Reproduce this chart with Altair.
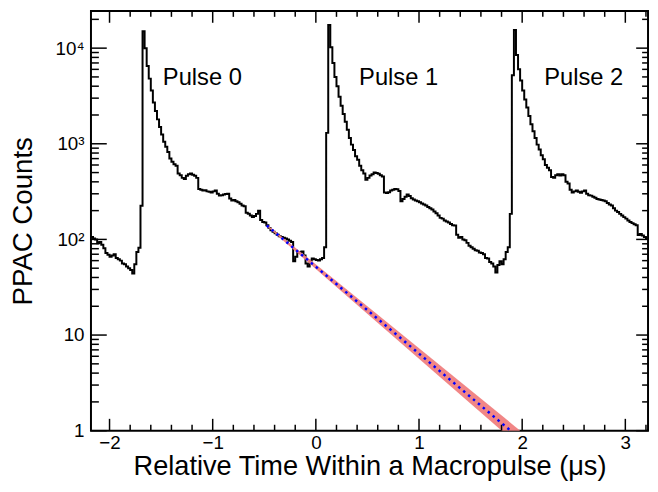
import altair as alt
import pandas as pd

# ---------------- data ----------------
bin_start = -2.18
bin_width = 0.02
counts = [
    # bins 0-24
    106, 102, 100, 91, 94, 88, 81, 72, 69, 66, 68, 70, 64, 62, 60, 56, 55, 52, 50, 48,
    44, 55, 74, 82, 225,
    # pulse 0: bins 25-50
    15000, 10000, 6500, 4800, 3600, 2700, 2200, 1800, 1500, 1250, 1050, 930, 820, 700, 650,
    610, 590, 490, 470, 440, 427, 462, 480, 490, 475, 462,
    # bins 51-83
    440, 337, 330, 324, 326, 318, 315, 310, 318, 324, 300, 287, 290, 295, 298, 300, 268,
    255, 258, 250, 245, 236, 226, 222, 190, 186, 178, 171, 176, 185, 200, 160, 152,
    # bins 84-115
    150, 141, 132, 125, 120, 116, 112, 108, 106, 104, 102, 100, 97, 94, 59, 66, 72, 74,
    75, 68, 56, 52, 60, 63, 62, 61, 60, 62, 64, 83, 1300, 17500,
    # pulse 1: bins 116-141
    10200, 7000, 5000, 4000, 3100, 2500, 2050, 1700, 1400, 1150, 980, 860, 740, 680, 590,
    530, 490, 420, 440, 465, 480, 500, 495, 485, 470, 455,
    # bins 142-176
    310, 305, 312, 324, 330, 337, 335, 320, 250, 265, 280, 295, 285, 270, 262, 255, 250,
    245, 238, 232, 226, 218, 212, 205, 196, 188, 178, 168, 165, 158, 154, 150, 145, 141, 140,
    # bins 177-205
    112, 104, 106, 100, 98, 92, 86, 83, 80, 77, 76, 73, 72, 70, 64, 63, 58, 56, 52, 45,
    54, 59, 55, 62, 74, 83, 185, 5200, 15500,
    # pulse 2: bins 206-231
    8500, 6000, 4600, 3600, 2900, 2400, 1950, 1600, 1350, 1150, 980, 870, 760, 690, 600,
    560, 530, 450, 440, 470, 480, 465, 480, 470, 400, 385,
    # bins 232-269
    330, 310, 318, 324, 315, 308, 318, 324, 300, 290, 287, 280, 272, 265, 262, 258, 255,
    250, 240, 232, 226, 212, 200, 193, 185, 178, 171, 165, 158, 152, 148, 144, 141, 111,
    114, 110, 106, 102,
]

# exponential fit (straight on a log axis) and its uncertainty band
fit_t = [-0.476, 1.888]
fit_c = [140.0, 1.0]
band_t = [-0.476, 1.802, 1.981]
band_hi = [143.5, 1.44, 1.0]
band_lo = [137.0, 1.0, 1.0]

label_t = [-1.483, 0.419, 2.214]
label_c = [4900, 4900, 4900]
label_text = ["Pulse 0", "Pulse 1", "Pulse 2"]

x_major = [-2, -1, 0, 1, 2, 3]
x_minor = [-1.8, -1.6, -1.4, -1.2, -0.8, -0.6, -0.4, -0.2, 0.2, 0.4, 0.6, 0.8,
           1.2, 1.4, 1.6, 1.8, 2.2, 2.4, 2.6, 2.8, 3.2]
y_major = [1, 10, 100, 1000, 10000]
y_minor = [2, 3, 4, 5, 6, 7, 8, 9, 20, 30, 40, 50, 60, 70, 80, 90,
           200, 300, 400, 500, 600, 700, 800, 900,
           2000, 3000, 4000, 5000, 6000, 7000, 8000, 9000, 20000]

x_domain = [-2.18, 3.22]
y_domain = [1, 24500]

# ---------------- chart ----------------
W, H = 564, 425
FONT = "Liberation Sans"

hist_df = pd.DataFrame({
    "t": [bin_start + i * bin_width for i in range(len(counts) + 1)],
    "c": counts + [counts[-1]],
})
fit_df = pd.DataFrame({"t": fit_t, "c": fit_c})
band_df = pd.DataFrame({"t": band_t, "c": band_hi, "lo": band_lo})
lab_df = pd.DataFrame({"t": label_t, "c": label_c, "text": label_text})

xs = alt.Scale(domain=x_domain, nice=False, zero=False)
ys = alt.Scale(type="log", domain=y_domain, nice=False)

x_axis = alt.Axis(
    values=x_major, ticks=False, domain=False, grid=False,
    labelFont=FONT, labelFontSize=19, labelColor="black", labelPadding=3,
    title="Relative Time Within a Macropulse (\u03bcs)", titleFont=FONT,
    titleFontSize=27.5, titleFontWeight="normal", titleColor="black",
    titleY=44, titleBaseline="alphabetic",
)
y_axis = alt.Axis(
    values=y_major, ticks=False, domain=False, grid=False,
    labelFont=FONT, labelFontSize=19, labelColor="black", labelPadding=7,
    labelExpr="datum.value == 1 ? '1' : datum.value == 10 ? '10' : datum.value == 100 ? '10\u00b2' : datum.value == 1000 ? '10\u00b3' : '10\u2074'",
    title="PPAC Counts", titleFont=FONT, titleFontSize=28, titleFontWeight="normal",
    titleColor="black", titleX=-68, titleY=H / 2, titleAngle=270,
    titleBaseline="middle", titleAlign="center",
)

X = alt.X("t:Q", scale=xs, axis=x_axis)
Y = alt.Y("c:Q", scale=ys, axis=y_axis)

hist = alt.Chart(hist_df).mark_line(
    interpolate="step-after", color="black", strokeWidth=2
).encode(x=X, y=Y)

band = alt.Chart(band_df).mark_area(color="#f08080", opacity=0.95).encode(
    x=X, y=Y, y2="lo:Q",
)

fit = alt.Chart(fit_df).mark_line(
    color="#0000ff", strokeWidth=2.5, strokeDash=[2.5, 4]
).encode(x=X, y=Y)

labels = alt.Chart(lab_df).mark_text(
    font=FONT, fontSize=24, align="left", baseline="middle", color="black"
).encode(x=X, y=Y, text="text:N")


def xticks(vals, length, top):
    df = pd.DataFrame({"t": vals})
    if top:
        yv, y2v = 0, length
    else:
        yv, y2v = H, H - length
    return alt.Chart(df).mark_rule(color="black", strokeWidth=1.5).encode(
        x=X, y=alt.value(yv), y2=alt.value(y2v),
    )


def yticks(vals, length, right):
    df = pd.DataFrame({"c": vals})
    if right:
        xv, x2v = W, W - length
    else:
        xv, x2v = 0, length
    return alt.Chart(df).mark_rule(color="black", strokeWidth=1.5).encode(
        y=Y, x=alt.value(xv), x2=alt.value(x2v),
    )


tick_layers = [
    xticks(x_major, 12, False), xticks(x_minor, 6, False),
    xticks(x_major, 12, True), xticks(x_minor, 6, True),
    yticks(y_major, 16, False), yticks(y_minor, 8, False),
    yticks(y_major, 12, True), yticks(y_minor, 6, True),
]

chart = alt.layer(hist, band, fit, labels, *tick_layers).properties(
    width=W, height=H,
    autosize=alt.AutoSizeParams(type="none"),
    padding={"left": 84, "top": 0, "right": 2, "bottom": 50},
    background="white",
).configure_view(stroke="black", strokeWidth=2)

chart.save("out.html", embed_options={"renderer": "svg", "actions": False})
